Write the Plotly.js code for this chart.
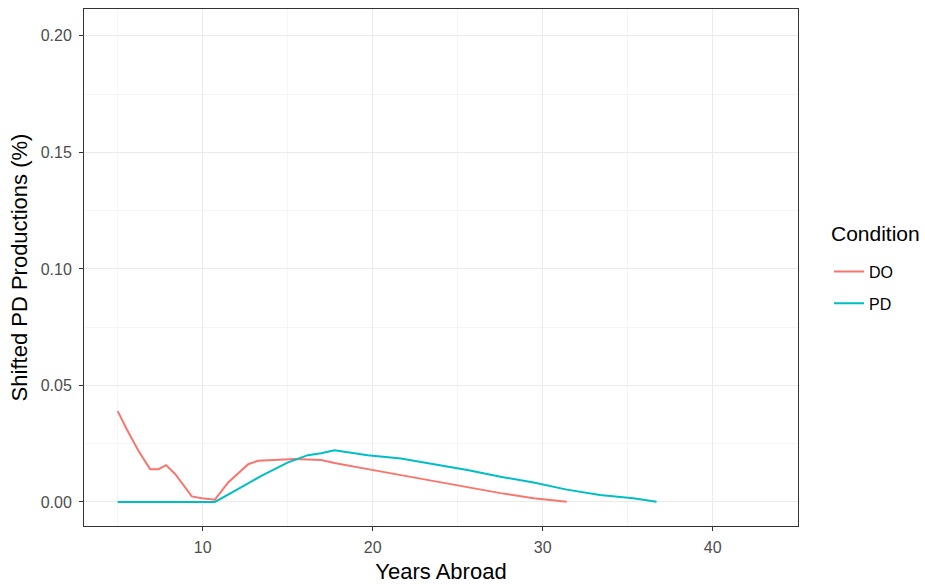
<!DOCTYPE html>
<html><head><meta charset="utf-8">
<script src="https://cdn.plot.ly/plotly-3.0.1.min.js"></script>
<style>body{margin:0;background:#fff}#chart{width:925px;height:584px}</style>
</head><body><div id="chart"></div>
<script>
const doYears = [5.0, 5.55, 6.23, 6.91, 7.40, 7.85, 8.38, 9.36, 9.94, 10.72, 11.5, 12.68, 13.26, 14.24, 15.41, 16.97, 17.75, 19.71, 21.66, 23.61, 25.57, 27.52, 29.47, 31.42];
const doValues = [0.039, 0.031, 0.0219, 0.0141, 0.0141, 0.0158, 0.012, 0.0024, 0.0016, 0.001, 0.0084, 0.0162, 0.0177, 0.018, 0.0184, 0.018, 0.0167, 0.0141, 0.0115, 0.0091, 0.0063, 0.0038, 0.0016, 0.0001];
const pdYears = [5.0, 8.0, 10.72, 11.89, 13.45, 15.02, 16.19, 16.97, 17.75, 19.71, 21.66, 23.61, 25.57, 27.52, 29.47, 31.42, 33.37, 35.33, 36.7];
const pdValues = [0, 0, 0, 0.0048, 0.0112, 0.017, 0.0201, 0.0209, 0.0222, 0.0201, 0.0187, 0.0162, 0.0137, 0.0108, 0.0084, 0.0053, 0.003, 0.0016, 0.0001];
const seriesNames = ['DO', 'PD'];
const legendTitle = 'Condition';
const xTicks = [10, 20, 30, 40];
const yTicks = [0, 0.05, 0.10, 0.15, 0.20];
const yTickText = ['0.00', '0.05', '0.10', '0.15', '0.20'];

const traces = [
  {x: doYears, y: doValues, name: seriesNames[0], legendgroup: 'a', mode: 'lines', line: {color: '#F8766D', width: 2}},
  {x: pdYears, y: pdValues, name: seriesNames[1], legendgroup: 'b', mode: 'lines', line: {color: '#00BFC4', width: 2}}
];
const axisBase = {
  showline: true, mirror: true, linecolor: '#333333', linewidth: 1,
  ticks: 'outside', ticklen: 4, tickcolor: '#333333', tickwidth: 1,
  showgrid: true, gridcolor: '#ebebeb', gridwidth: 1, zeroline: false,
  tickfont: {family: 'Liberation Sans, Arial, sans-serif', size: 16, color: '#4d4d4d'}
};
const layout = {
  width: 925, height: 584,
  margin: {l: 84, r: 127, t: 9, b: 58, autoexpand: false},
  paper_bgcolor: '#ffffff', plot_bgcolor: '#ffffff',
  font: {family: 'Liberation Sans, Arial, sans-serif', color: '#000000'},
  xaxis: Object.assign({}, axisBase, {
    range: [3.02, 45.02], tickmode: 'array', tickvals: xTicks, ticktext: xTicks.map(String),
    ticklabelstandoff: 3,
    minor: {tick0: 5, dtick: 10, showgrid: true, gridcolor: '#f5f5f5', gridwidth: 1, ticks: ''},
    title: {text: 'Years Abroad', font: {size: 22, color: '#000000'}, standoff: 8}
  }),
  yaxis: Object.assign({}, axisBase, {
    range: [-0.0103, 0.2115], tickmode: 'array', tickvals: yTicks, ticktext: yTickText,
    ticklabelstandoff: 4,
    minor: {tick0: 0.025, dtick: 0.05, showgrid: true, gridcolor: '#f5f5f5', gridwidth: 1, ticks: ''},
    title: {text: 'Shifted PD Productions (%)', font: {size: 22, color: '#000000'}, standoff: 6}
  }),
  showlegend: true,
  legend: {
    x: 1.0434, xanchor: 'left', y: 0.461, yanchor: 'middle',
    traceorder: 'grouped', tracegroupgap: 8,
    font: {size: 16, color: '#000000'}, itemwidth: 30
  },
  annotations: [{
    text: legendTitle, xref: 'paper', yref: 'paper', x: 1.0434, y: 0.565,
    xanchor: 'left', yanchor: 'middle', showarrow: false,
    font: {size: 21, color: '#000000'}
  }]
};
Plotly.newPlot('chart', traces, layout, {displayModeBar: false});
</script></body></html>
